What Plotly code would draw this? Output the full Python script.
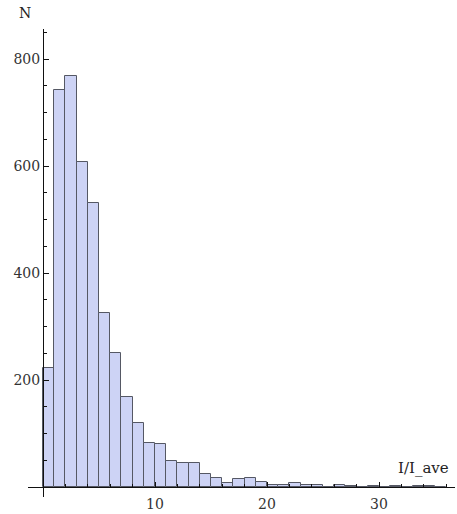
import plotly.graph_objects as go

# Histogram bins (left edges, width 1) and counts
bin_left = [0, 1, 2, 3, 4, 5, 6, 7, 8, 9, 10, 11, 12, 13, 14, 15, 16, 17,
            18, 19, 20, 21, 22, 23, 24, 25, 26, 27, 28, 29, 30, 31, 32, 33, 34, 35]
counts = [223, 743, 769, 607, 530, 326, 250, 169, 120, 83, 80, 49, 45, 45,
          24, 16, 8, 15, 17, 9, 4, 4, 8, 4, 4, 0, 4, 2, 0, 2, 0, 1, 0, 2, 1, 0]
bin_width = 1

x_ticks = [10, 20, 30]
y_ticks = [200, 400, 600, 800]
x_title = "I/I_ave"
y_title = "N"

FONT = "DejaVu Serif"
W, H = 457, 514
ml, mr, mt, mb = 28, 2, 29, 17
px_per_x = 11.2
px_per_y = 0.535
pw, ph = W - ml - mr, H - mt - mb
x0 = -(43 - ml) / px_per_x
x1 = x0 + pw / px_per_x
y0 = -(H - mb - 487) / px_per_y
y1 = y0 + ph / px_per_y

fig = go.Figure()
fig.add_trace(go.Bar(
    x=[b + bin_width / 2 for b in bin_left],
    y=counts,
    width=bin_width,
    marker=dict(color="#CDD3F5", line=dict(color="rgb(85,88,100)", width=1)),
    hoverinfo="x+y",
))

fig.update_layout(
    width=W, height=H,
    margin=dict(l=ml, r=mr, t=mt, b=mb, pad=0),
    paper_bgcolor="white", plot_bgcolor="white",
    showlegend=False, bargap=0,
    font=dict(family=FONT, size=14, color="#222"),
    xaxis=dict(
        range=[x0, x1], anchor="free", position=(0 - y0) / (y1 - y0),
        showgrid=False, zeroline=False, showline=True, linecolor="#111", linewidth=1,
        tickmode="array", tickvals=x_ticks, ticktext=[str(v) for v in x_ticks],
        ticks="inside", ticklen=5, tickcolor="#111", tickwidth=1,
        ticklabelstandoff=4,
        minor=dict(ticks="inside", ticklen=3, dtick=2, tick0=0, tickcolor="#111", showgrid=False),
        tickfont=dict(family=FONT, size=14, color="#333"),
        layer="above traces",
    ),
    yaxis=dict(
        range=[y0, y1], anchor="free", position=(0 - x0) / (x1 - x0),
        showgrid=False, zeroline=False, showline=True, linecolor="#111", linewidth=1,
        tickmode="array", tickvals=y_ticks, ticktext=[str(v) for v in y_ticks],
        ticks="inside", ticklen=5, tickcolor="#111", tickwidth=1,
        minor=dict(ticks="inside", ticklen=3, dtick=50, tick0=0, tickcolor="#111", showgrid=False),
        tickfont=dict(family=FONT, size=14, color="#333"),
        layer="above traces",
    ),
    annotations=[
        dict(text=y_title, xref="paper", yref="paper", x=(25 - ml) / pw, y=(H - mb - 13) / ph,
             showarrow=False, xanchor="center", yanchor="middle",
             font=dict(family=FONT, size=14, color="#222")),
        dict(text=x_title, xref="x", yref="y", x=(451 - 43) / px_per_x, y=(487 - 468) / px_per_y,
             showarrow=False, xanchor="right", yanchor="middle",
             font=dict(family=FONT, size=15, color="#222")),
    ],
)

fig.write_html("out.html")
